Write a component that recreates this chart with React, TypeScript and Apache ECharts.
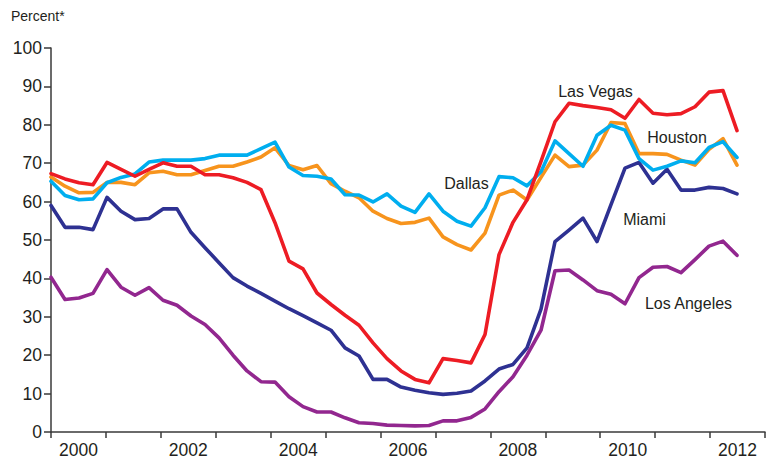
import React, { useEffect, useRef } from "react";
import * as echarts from "echarts";

// Quarterly categories 2000Q1 .. 2012Q4
const years = [2000, 2001, 2002, 2003, 2004, 2005, 2006, 2007, 2008, 2009, 2010, 2011, 2012];
const quarterNames = ["Q1", "Q2", "Q3", "Q4"];
const quarters = years.flatMap((y) => quarterNames.map((q) => `${y}${q}`));

// Percent values, 2000Q1 .. 2012Q2
const lasVegas = [
  67.3, 65.9, 64.9, 64.4, 70.2, 68.4, 66.6, 68.4, 70.1, 69.2,
  69.2, 67.0, 67.0, 66.2, 65.0, 63.1, 54.5, 44.5, 42.5, 36.2,
  33.2, 30.4, 27.8, 23.2, 19.1, 15.9, 13.7, 12.8, 19.1, 18.6,
  18.0, 25.4, 46.2, 54.6, 60.5, 70.5, 80.8, 85.6, 85.0, 84.5,
  83.9, 81.7, 86.6, 83.0, 82.6, 82.9, 84.7, 88.5, 88.9, 78.5,
];
const houston = [
  66.4, 64.0, 62.3, 62.4, 65.0, 65.0, 64.4, 67.5, 67.9, 67.0,
  67.0, 68.1, 69.2, 69.2, 70.3, 71.6, 74.0, 69.4, 68.3, 69.4,
  64.7, 62.7, 61.0, 57.5, 55.6, 54.3, 54.6, 55.7, 50.8, 48.8,
  47.4, 51.8, 61.7, 63.0, 60.4, 66.3, 72.1, 69.1, 69.5, 73.4,
  80.6, 80.3, 72.5, 72.5, 72.3, 70.8, 69.5, 73.6, 76.4, 69.5,
];
const dallas = [
  65.3, 61.6, 60.5, 60.7, 64.9, 66.3, 67.2, 70.3, 70.8, 70.8,
  70.8, 71.2, 72.1, 72.1, 72.1, 73.8, 75.5, 69.0, 66.8, 66.6,
  65.9, 61.8, 61.7, 59.9, 62.0, 58.8, 57.2, 62.0, 57.5, 54.9,
  53.6, 58.4, 66.5, 66.2, 64.1, 67.8, 75.8, 72.5, 69.2, 77.3,
  79.9, 78.6, 71.2, 68.2, 69.2, 70.6, 70.1, 74.1, 75.6, 71.5,
];
const miami = [
  59.0, 53.3, 53.3, 52.7, 61.1, 57.5, 55.3, 55.6, 58.1, 58.1,
  52.0, 48.0, 44.1, 40.2, 38.0, 36.1, 34.1, 32.1, 30.3, 28.4,
  26.5, 21.9, 19.8, 13.7, 13.7, 11.7, 10.9, 10.2, 9.8, 10.1,
  10.7, 13.3, 16.4, 17.6, 21.9, 32.0, 49.6, 52.6, 55.7, 49.6,
  59.2, 68.7, 70.2, 64.8, 68.4, 63.0, 63.0, 63.7, 63.4, 62.0,
];
const losAngeles = [
  40.3, 34.5, 34.9, 36.1, 42.3, 37.7, 35.6, 37.6, 34.3, 33.0,
  30.2, 28.0, 24.5, 20.0, 15.9, 13.1, 13.0, 9.2, 6.6, 5.2,
  5.2, 3.7, 2.4, 2.2, 1.8, 1.7, 1.6, 1.7, 2.9, 2.9,
  3.8, 6.0, 10.5, 14.4, 20.0, 26.5, 42.0, 42.2, 39.6, 36.8,
  35.9, 33.4, 40.2, 42.9, 43.1, 41.5, 44.9, 48.4, 49.7, 46.0,
];

const xLabelYears = [2000, 2002, 2004, 2006, 2008, 2010, 2012];
const yMin = 0;
const yMax = 100;
const yStep = 10;

const FONT = '"Liberation Sans", Arial, sans-serif';
const AXIS_COLOR = "#3a3a3a";
const TEXT_COLOR = "#231f20";

const seriesDefs = [
  { name: "Miami", data: miami, color: "#2e3192" },
  { name: "Los Angeles", data: losAngeles, color: "#92278f" },
  { name: "Houston", data: houston, color: "#f7941d" },
  { name: "Dallas", data: dallas, color: "#00aeef" },
  { name: "Las Vegas", data: lasVegas, color: "#ed1c24" },
];

const labels = [
  { text: "Las Vegas", x: 595.5, y: 91 },
  { text: "Houston", x: 677, y: 137.5 },
  { text: "Dallas", x: 466.5, y: 183.5 },
  { text: "Miami", x: 644.5, y: 219.5 },
  { text: "Los Angeles", x: 688.5, y: 303 },
];

export default function App() {
  const ref = useRef<HTMLDivElement>(null);

  useEffect(() => {
    if (!ref.current) return;
    const chart = echarts.init(ref.current, undefined, { renderer: "svg" });
    const option: any = {
      animation: false,
      textStyle: { fontFamily: FONT },
      grid: { left: 51, top: 48, width: 723, height: 384.5, containLabel: false },
      xAxis: [
        {
          type: "category",
          data: quarters,
          boundaryGap: false,
          show: false,
          position: "bottom",
        },
        {
          type: "value",
          min: 2000,
          max: 2013,
          interval: 1,
          position: "bottom",
          axisLine: { show: true, onZero: false, lineStyle: { color: AXIS_COLOR, width: 1.5 } },
          axisTick: { show: true, inside: false, length: 6, lineStyle: { color: AXIS_COLOR, width: 1.5 } },
          axisLabel: { show: false },
          splitLine: { show: false },
        },
        {
          type: "value",
          min: 2000,
          max: 2013,
          interval: 0.5,
          position: "bottom",
          axisLine: { show: false, onZero: false },
          axisTick: { show: false },
          splitLine: { show: false },
          axisLabel: {
            show: true,
            margin: 9,
            color: TEXT_COLOR,
            fontSize: 17.5,
            fontFamily: FONT,
            showMinLabel: true,
            showMaxLabel: true,
            formatter: (v: number) => {
              const y = Math.floor(v);
              return Math.abs(v - y - 0.5) < 1e-6 && xLabelYears.includes(y) ? String(y) : "";
            },
          },
        },
      ],
      yAxis: {
        type: "value",
        min: yMin,
        max: yMax,
        interval: yStep,
        axisLine: { show: true, lineStyle: { color: AXIS_COLOR, width: 1.5 } },
        axisTick: { show: true, inside: false, length: 7, lineStyle: { color: AXIS_COLOR, width: 1.5 } },
        axisLabel: { color: TEXT_COLOR, fontSize: 17.5, margin: 9, fontFamily: FONT },
        splitLine: { show: false },
      },
      graphic: [
        {
          type: "text",
          left: 11,
          top: 9,
          style: { text: "Percent*", fill: TEXT_COLOR, font: `14px ${FONT}` },
        },
        ...labels.map((l) => ({
          type: "text",
          x: l.x,
          y: l.y,
          style: {
            text: l.text,
            fill: TEXT_COLOR,
            font: `16px ${FONT}`,
            textAlign: "center",
            textVerticalAlign: "middle",
          },
        })),
      ],
      series: seriesDefs.map((s) => ({
        name: s.name,
        type: "line",
        xAxisIndex: 0,
        yAxisIndex: 0,
        data: s.data,
        showSymbol: false,
        symbol: "none",
        lineStyle: { color: s.color, width: 3.6, cap: "round", join: "round" },
        itemStyle: { color: s.color },
        z: 2,
      })),
    };
    chart.setOption(option);
    return () => chart.dispose();
  }, []);

  return (
    <div
      ref={ref}
      style={{ position: "absolute", left: 0, top: 0, width: 768, height: 459 }}
    />
  );
}
